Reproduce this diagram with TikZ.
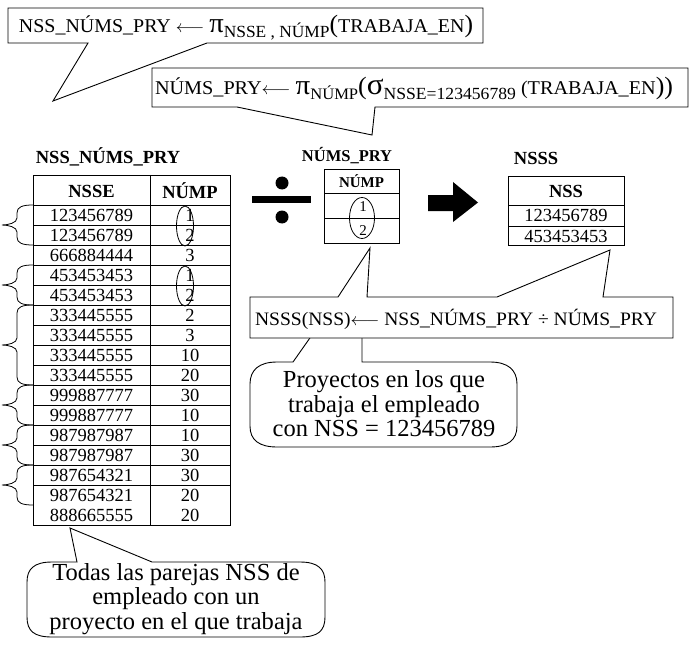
\documentclass[tikz,border=0pt]{standalone}
\usepackage{fontspec}
\usepackage{graphicx}
\setmainfont{Liberation Serif}
\usetikzlibrary{shapes.geometric}
\newcommand\fsz[1]{\fontsize{#1}{#1}\selectfont}
\newcommand\larr{{\fsz{17}$\longleftarrow$}}
\begin{document}
\begin{tikzpicture}[x=1pt,y=-1pt,line width=0.9pt,
  txt/.style={inner sep=0pt,outer sep=0pt},
  cell/.style={inner sep=0pt,outer sep=0pt,font=\fsz{18.5}},
  hcell/.style={inner sep=0pt,outer sep=0pt,font=\fsz{18.5}\bfseries},
  title/.style={inner sep=0pt,outer sep=0pt,font=\fsz{18.5}\bfseries},
  oval/.style={draw,ellipse,inner sep=0pt,line width=0.8pt},
  bubble/.style={draw,fill=white,line join=miter},
  bubtext/.style={inner sep=0pt,align=center,font=\fsz{24.5}}]
\useasboundingbox (0,0) rectangle (698,663);

% ---- callout 1
\draw[bubble] (8,8) -- (483,8) -- (483,43) -- (207,43) -- (53,101) -- (88,43) -- (8,43) -- cycle;
\node[txt,anchor=base west] (f1) at (19,33) {\resizebox{454pt}{\height}{\fsz{19.5}NSS\_NÚMS\_PRY \larr\ {\fsz{28}π}\raisebox{-5pt}{\fsz{17}NSSE , NÚMP}{\fsz{25}(}TRABAJA\_EN{\fsz{25})}}};

% ---- callout 2
\draw[bubble] (152,68) -- (688,68) -- (688,107) -- (375,107) -- (372,135) -- (237,107) -- (152,107) -- cycle;
\node[txt,anchor=base west] (f2) at (155,95) {\resizebox{518pt}{\height}{\fsz{19.5}NÚMS\_PRY\larr\ {\fsz{28}π}\raisebox{-5pt}{\fsz{16}NÚMP}{\fsz{25}(}{\fsz{30}σ}\raisebox{-5pt}{\fsz{17}NSSE=123456789} (TRABAJA\_EN{\fsz{25}))}}};

% ---- big table
\node[title] (t1) at (108,157) {NSS\_NÚMS\_PRY};
\draw (33,175) rectangle (230,525);
\draw (150,175) -- (150,525);
\foreach \i in {0,...,14} \draw (33,{205+20*\i}) -- (230,{205+20*\i});
\node[hcell] (h1) at (91.5,191) {NSSE};
\node[hcell] (h2) at (190,191) {NÚMP};
\foreach \a/\b [count=\i from 0] in {123456789/1,123456789/2,666884444/3,453453453/1,453453453/2,333445555/2,333445555/3,333445555/10,333445555/20,999887777/30,999887777/10,987987987/10,987987987/30,987654321/30,987654321/20,888665555/20}{
  \node[cell] (ra\i) at (91.5,{215.5+20*\i}) {\a};
  \node[cell] (rb\i) at (190,{215.5+20*\i}) {\b};
}
\node[oval,minimum width=17pt,minimum height=40pt] (e1) at (185,226) {};
\node[oval,minimum width=17pt,minimum height=40pt] (e2) at (185,286) {};

% braces
\foreach \t/\b in {205/245,265/305,305/385,385/425,425/465,465/505}{
  \draw[line width=0.8pt] (33,\t) .. controls (22,\t) and (17,{\t+2}) .. (17,{\t+8})
     -- (17,{(\t+\b)/2-7}) .. controls (17,{(\t+\b)/2-2}) and (8,{(\t+\b)/2}) .. (2,{(\t+\b)/2})
     .. controls (8,{(\t+\b)/2}) and (17,{(\t+\b)/2+2}) .. (17,{(\t+\b)/2+7})
     -- (17,{\b-8}) .. controls (17,{\b-2}) and (22,\b) .. (33,\b);
}

% ---- divide sign
\fill (252,196) rectangle (311,203);
\fill (282,183) circle (6.5pt);
\fill (282,217) circle (6.5pt);

% ---- NUMS_PRY table
\node[title,font=\fsz{16.5}\bfseries] (t2) at (347,156) {NÚMS\_PRY};
\draw (324,169) rectangle (399,243);
\draw (324,193) -- (399,193);
\draw (324,218) -- (399,218);
\node[hcell,font=\fsz{15}\bfseries] (h3) at (361.5,181) {NÚMP};
\node[cell,font=\fsz{15}] (n1) at (363,207) {1};
\node[cell,font=\fsz{15}] (n2) at (363,231) {2};
\node[oval,minimum width=25pt,minimum height=41pt] (e3) at (362,218) {};

% ---- block arrow
\fill (428,195) -- (453,195) -- (453,182) -- (478,202.5) -- (453,222) -- (453,211) -- (428,211) -- cycle;

% ---- NSSS table
\node[title] (t3) at (536,158) {NSSS};
\draw (508,176) rectangle (624,245);
\draw (508,205) -- (624,205);
\draw (508,226) -- (624,226);
\node[hcell] (h4) at (566,191) {NSS};
\node[cell] (s1) at (566,215.5) {123456789};
\node[cell] (s2) at (566,236) {453453453};

% ---- callout 4 (Proyectos)
\draw[bubble] (293,362) -- (312,335) -- (362,335) -- (362,362) -- (490,362)
  .. controls (508,362) and (517,370) .. (517,384) -- (517,426)
  .. controls (517,440) and (508,447) .. (490,447) -- (277,447)
  .. controls (259,447) and (250,440) .. (250,426) -- (250,384)
  .. controls (250,370) and (259,362) .. (277,362) -- cycle;
\node[bubtext] (c4) at (384,404) {Proyectos en los que\\trabaja el empleado\\con NSS = 123456789};

% ---- callout 3
\draw[bubble] (250,297) -- (338,297) -- (370,248) -- (367,297) -- (497,297) -- (610,250) -- (603,297) -- (673,297) -- (673,338) -- (250,338) -- cycle;
\node[txt,anchor=base west] (f3) at (255,325) {\resizebox{402pt}{\height}{\fsz{19}NSSS(NSS)\larr\ NSS\_NÚMS\_PRY ÷ NÚMS\_PRY}};

% ---- callout 5 (Todas)
\draw[bubble] (77,562) -- (70,528) -- (152,562) -- (300,562)
  .. controls (318,562) and (325,569) .. (325,582) -- (325,617)
  .. controls (325,631) and (318,637) .. (300,637) -- (52,637)
  .. controls (34,637) and (27,631) .. (27,617) -- (27,582)
  .. controls (27,569) and (34,562) .. (52,562) -- cycle;
\node[bubtext] (c5) at (176,599) {Todas las parejas NSS de\\empleado con un\\proyecto en el que trabaja};
\end{tikzpicture}
\end{document}
